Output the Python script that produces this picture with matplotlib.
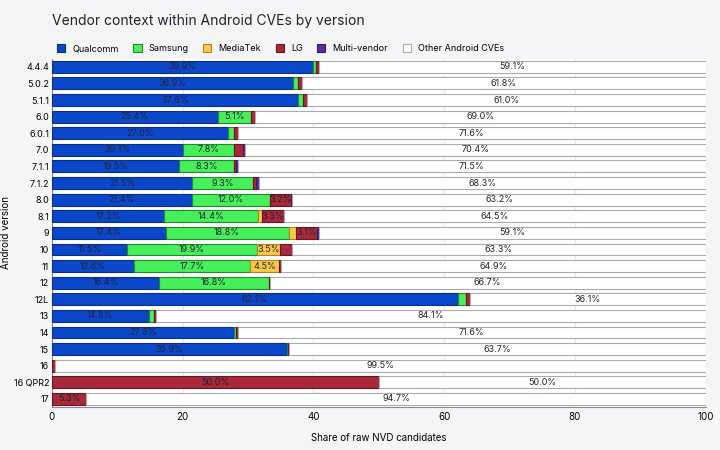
import numpy as np
import matplotlib.pyplot as plt

plt.rcParams['font.family'] = ['Inter', 'DejaVu Sans']

versions = ['4.4.4', '5.0.2', '5.1.1', '6.0', '6.0.1', '7.0', '7.1.1', '7.1.2', '8.0', '8.1',
            '9', '10', '11', '12', '12L', '13', '14', '15', '16', '16 QPR2', '17']
qualcomm = [39.9, 36.9, 37.6, 25.4, 27.0, 20.1, 19.5, 21.5, 21.4, 17.2,
            17.4, 11.5, 12.6, 16.4, 62.1, 14.8, 27.8, 35.9, 0, 0, 0]
samsung = [0.5, 0.8, 0.8, 5.1, 0.9, 7.8, 8.3, 9.3, 12.0, 14.4,
           18.8, 19.9, 17.7, 16.8, 1.2, 0.9, 0.4, 0.2, 0, 0, 0]
mediatek = [0, 0, 0, 0, 0, 0, 0, 0, 0, 0.6,
            1.2, 3.5, 4.5, 0, 0, 0, 0, 0, 0, 0, 0]
lg = [0.5, 0.5, 0.6, 0.5, 0.5, 1.3, 0.4, 0.4, 3.2, 3.3,
      3.1, 1.8, 0.3, 0.1, 0.6, 0.2, 0.2, 0.2, 0.5, 50.0, 5.3]
multi = [0, 0, 0, 0, 0, 0.4, 0.3, 0.5, 0.2, 0,
         0.4, 0, 0, 0, 0, 0, 0, 0, 0, 0, 0]
other = [59.1, 61.8, 61.0, 69.0, 71.6, 70.4, 71.5, 68.3, 63.2, 64.5,
         59.1, 63.3, 64.9, 66.7, 36.1, 84.1, 71.6, 63.7, 99.5, 50.0, 94.7]

series = [('Qualcomm', qualcomm, '#0a47c9', '#0a2f8a'),
          ('Samsung', samsung, '#47ef5a', '#1f8a2c'),
          ('MediaTek', mediatek, '#fcc84a', '#b08420'),
          ('LG', lg, '#a82a3a', '#6a1420'),
          ('Multi-vendor', multi, '#5b2b9c', '#3a1a66'),
          ('Other Android CVEs', other, '#ffffff', '#a9aab8')]

fig = plt.figure(figsize=(7.2, 4.5), dpi=100, facecolor='#f4f5f7')
ax = fig.add_axes([0.072, 0.095, 0.908, 0.775])
ax.set_facecolor('white')
y = np.arange(len(versions))
left = np.zeros(len(versions))
for name, vals, col, edge in series:
    vals = np.array(vals)
    ax.barh(y, vals, left=left, height=0.72, color=col, edgecolor=edge,
            linewidth=0.8, label=name, zorder=3)
    for i, v in enumerate(vals):
        if v >= 3:
            ax.text(left[i] + v / 2, i, f'{v:.1f}%', ha='center', va='center',
                    fontsize=6.5, color='#222233', zorder=4)
    left += vals

ax.set_xlim(0, 100)
ax.set_ylim(len(versions) - 0.5, -0.5)
ax.set_yticks(y)
ax.set_yticklabels(versions, fontsize=6.5)
ax.set_xticks([0, 20, 40, 60, 80, 100])
ax.tick_params(axis='x', labelsize=7, length=0)
ax.tick_params(axis='y', length=0, pad=2)
ax.grid(axis='x', color='#e6e7ec', linewidth=0.8, zorder=0)
for s in ['top', 'right']:
    ax.spines[s].set_visible(False)
ax.spines['left'].set_color('#888899')
ax.spines['bottom'].set_color('#888899')
ax.set_xlabel('Share of raw NVD candidates', fontsize=7, labelpad=8)
ax.set_ylabel('Android version', fontsize=7, labelpad=2)

fig.text(0.072, 0.945, 'Vendor context within Android CVEs by version', fontsize=10, color='#222233')
ax.legend(loc='lower left', bbox_to_anchor=(0.0, 1.0), ncol=6, frameon=False,
          fontsize=6.5, handlelength=0.9, handleheight=0.9, columnspacing=1.6,
          borderaxespad=0.2)
fig.savefig('out.png', dpi=100, facecolor=fig.get_facecolor())
